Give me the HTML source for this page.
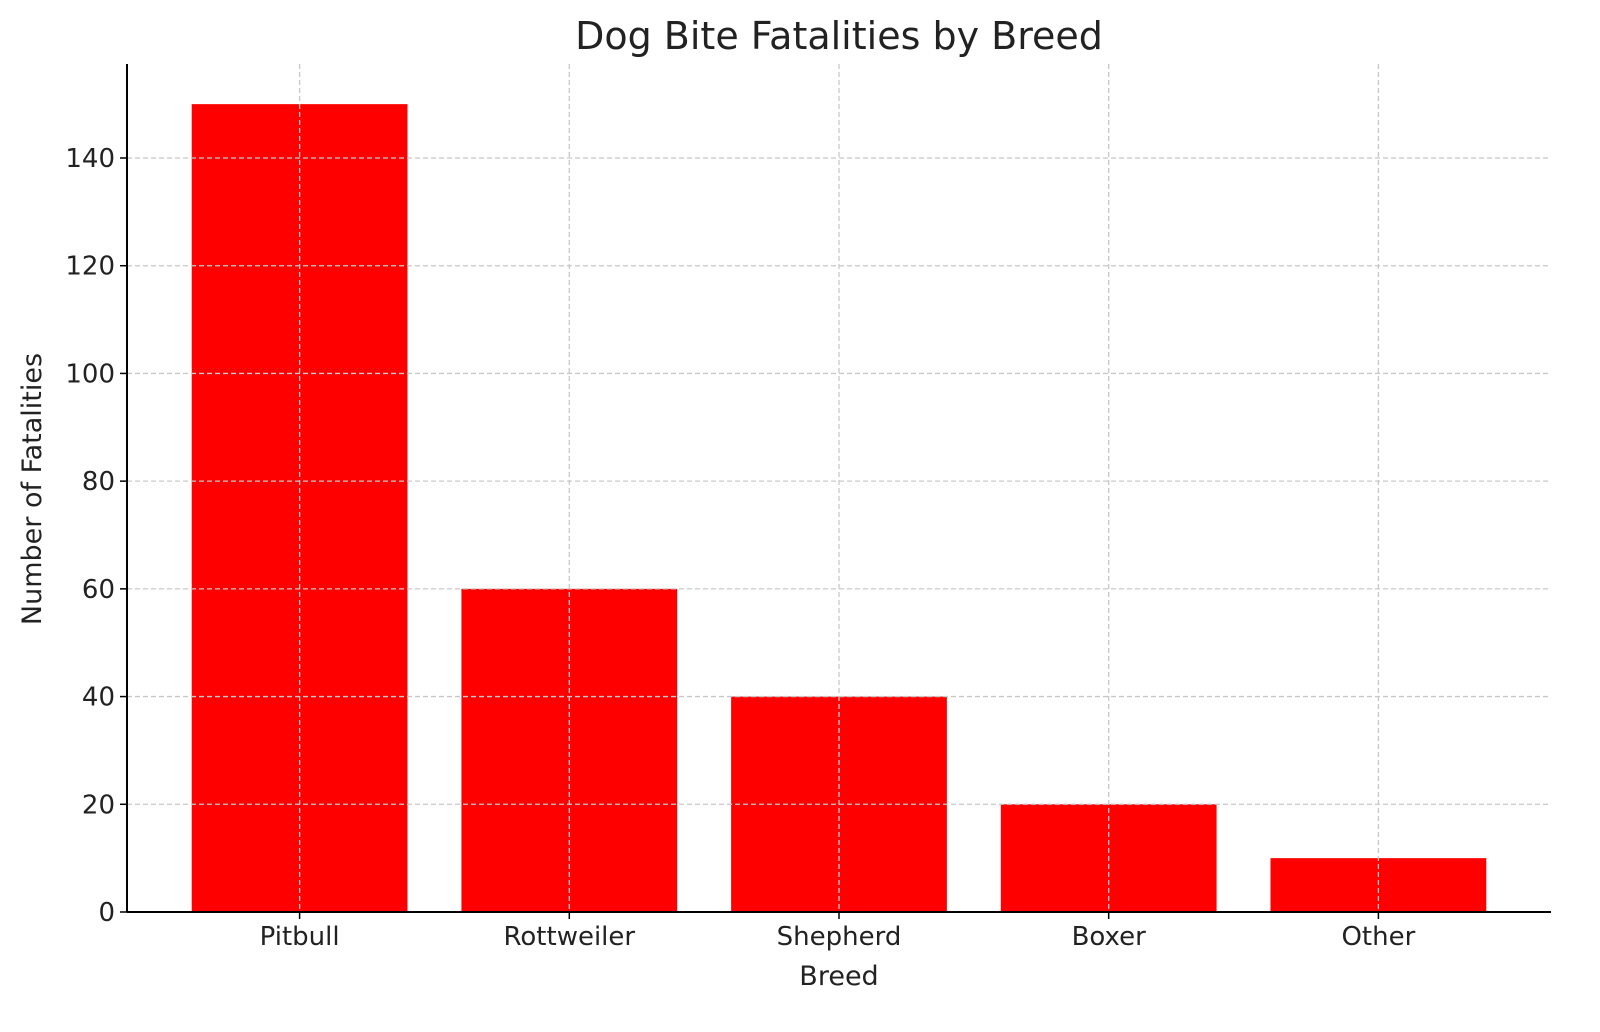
<!DOCTYPE html>
<html><head><meta charset="utf-8"><style>
html,body{margin:0;padding:0;background:#fff;overflow:hidden;width:1600px;height:1032px;}
svg{display:block;}
svg text{font-family:"DejaVu Sans","Liberation Sans",sans-serif;fill:#222;}
</style></head><body>
<svg id="chart" width="1600" height="1032" xmlns="http://www.w3.org/2000/svg">
<text x="839" y="49" font-size="38" text-anchor="middle">Dog Bite Fatalities by Breed</text>
<g id="bars"></g>
<g id="grid"></g>
<g id="ticks"></g>
<line x1="127" y1="64" x2="127" y2="912" stroke="#000" stroke-width="2"/>
<line x1="127" y1="912" x2="1551" y2="912" stroke="#000" stroke-width="2"/>
<text x="839" y="985" font-size="27" text-anchor="middle">Breed</text>
<text transform="translate(41,489) rotate(-90)" font-size="27" text-anchor="middle">Number of Fatalities</text>
</svg>
<script>
const categories=["Pitbull","Rottweiler","Shepherd","Boxer","Other"];
const values=[150,60,40,20,10];
const yTicks=[0,20,40,60,80,100,120,140];
const NS="http://www.w3.org/2000/svg";
const L=127,R=1551,T=64,B=912;
const step=(R-L)/(categories.length-1+2*0.64);
function xPos(i){return L+(0.64+i)*step;}
function yPos(v){return B-v*(B-158)/140;}
function mk(tag,attrs,parent){const e=document.createElementNS(NS,tag);for(const k in attrs)e.setAttribute(k,attrs[k]);parent.appendChild(e);return e;}
const gB=document.getElementById('bars'),gG=document.getElementById('grid'),gT=document.getElementById('ticks');
values.forEach((v,i)=>{
  const w=step*0.8;
  const r=mk('rect',{x:xPos(i)-w/2,y:yPos(v),width:w,height:B-yPos(v),fill:'#ff0000'},gB);
  
  
  const g=mk('line',{x1:xPos(i),x2:xPos(i),y1:T,y2:B,stroke:'#c8c8c8','stroke-width':1.3,'stroke-dasharray':'5,3'},gG);
  
  
  const tk=mk('line',{x1:xPos(i),x2:xPos(i),y1:B,y2:B+7,stroke:'#000','stroke-width':1.5},gT);
  
  
  const t=mk('text',{x:xPos(i),y:B+33,'font-size':26,'text-anchor':'middle'},gT);
  t.textContent=categories[i];
  
  
});
yTicks.forEach(v=>{
  const y=yPos(v);
  if(v>0){const g=mk('line',{x1:L,x2:R,y1:y,y2:y,stroke:'#c8c8c8','stroke-width':1.3,'stroke-dasharray':'5,3'},gG);
  
  }
  const tk=mk('line',{x1:L-7,x2:L,y1:y,y2:y,stroke:'#000','stroke-width':1.5},gT);
  
  
  const t=mk('text',{x:L-12,y:y+9,'font-size':26,'text-anchor':'end'},gT);
  t.textContent=v;
  
  
});
</script>
</body></html>
